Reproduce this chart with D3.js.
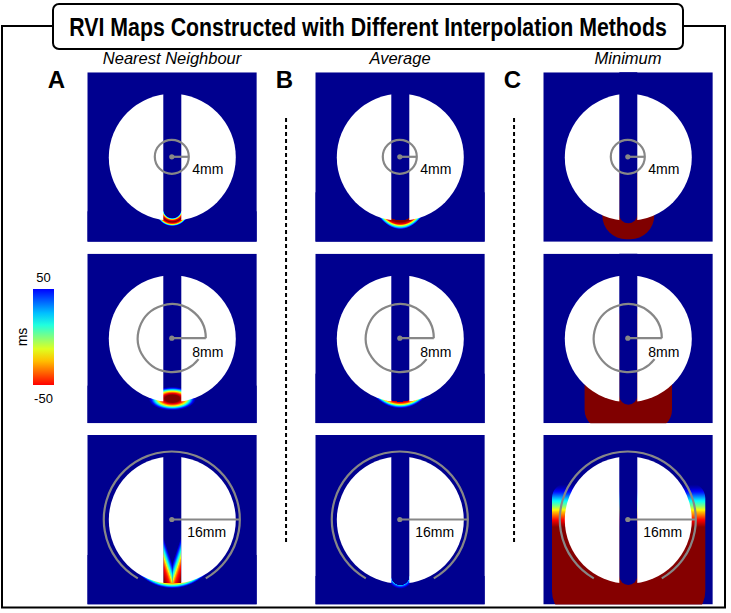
<!DOCTYPE html>
<html><head><meta charset="utf-8">
<script src="https://cdn.jsdelivr.net/npm/d3@7"></script>
<style>html,body{margin:0;padding:0;background:#fff;} svg{display:block;}</style>
</head><body>
<svg id="chart" width="731" height="613"></svg>
<script>
// ---------------- data ----------------
const title = "RVI Maps Constructed with Different Interpolation Methods";
const methods = ["Nearest Neighbour", "Average", "Minimum"];
const panelLetters = ["A", "B", "C"];
const radiiMM = [4, 8, 16];
const radiusLabels = ["4mm", "8mm", "16mm"];
const colorbarTicks = [50, -50];
const colorbarUnit = "ms";
// RVI (ms) profiles across each activation front: [normalised position, ms]
const nnFronts = [
  [[0,70],[0.5,70],[0.53,40],[0.59,-20],[0.65,-50],[0.74,-68],[0.82,-50],[0.88,-25],[0.94,25],[1,70]],
  [[0,-70],[0.3,-68],[0.45,-50],[0.6,-20],[0.75,20],[0.88,50],[1,70]],
  [[0,70],[0.92,70],[0.925,-30],[0.94,-10],[0.955,10],[0.975,35],[1,70]]
];
const nnWallFront = [[0,70],[0.154,45],[0.308,20],[0.423,0],[0.538,-25],[0.692,-45],[0.846,-55],[1,-64]];
const avgFronts = [
  [[0,70],[0.875,70],[0.876,-70],[0.9,-66],[0.93,-50],[0.944,-20],[0.958,0],[0.972,20],[0.99,45],[1,70]],
  [[0,70],[0.9,70],[0.9,-60],[0.925,-40],[0.945,-10],[0.962,20],[0.98,45],[1,70]],
  [[0,70],[0.68,70],[0.72,25],[0.85,48],[1,70]]
];
const minFronts = [
  [[0,-70],[1,-70]],
  [[0,-70],[1,-70]],
  [[0,70],[0.114,60],[0.227,45],[0.386,20],[0.523,0],[0.659,-25],[0.841,-50],[1,-66]]
];
const frontsByMethod = [nnFronts, avgFronts, minFronts];

// ---------------- layout ----------------
const W = 731, H = 613, P = 169.5;
const disk = {cx: 85, cy: 85, r: 63.5};
const strip = {x0: 76, x1: 94};
const ann = {cx: 84.5, cy: 84.5};
const waveLayout = [
  [ {kind:"radial", cx:85, cy:137, rx:17, ry:17, yMin:139},
    {kind:"radial", cx:85, cy:145, rx:24, ry:12, yMin:132},
    {kind:"radial", cx:85, cy:85, rx:55.3, ry:68.5, yMin:120, wall:true} ],
  [ {kind:"radial", cx:85, cy:85, rx:38, ry:72, yMin:120},
    {kind:"radial", cx:85, cy:85, rx:46.4, ry:70, yMin:120},
    {kind:"radial", cx:85, cy:141, rx:13, ry:13, yMin:141} ],
  [ {kind:"region", x:59, y:100, w:52, h:67, rt:0, rb:24, g0:100, g1:167, end:151},
    {kind:"region", x:41.3, y:60, w:87.4, h:116, rt:0, rb:20, g0:60, g1:176, end:151},
    {kind:"region", x:8.7, y:48, w:153.3, h:138, rt:15, rb:30, g0:48, g1:92, end:150} ]
];
const wallLayout = {ox: 85, oy: 140, dx: 3, dy: 1, s0: -4, s1: 9, y0: 95, y1: 148};
const gapAngles = [null, [0, 38], [60, 120]];   // degrees, clockwise from +x
const labelOffsets = [[20.5, 17], [20.5, 18.5], [15.5, 17]];
const FONT = "'Liberation Sans', Arial, sans-serif";

// ---------------- scales ----------------
const jet = d3.scaleLinear()
  .domain([66.7, 50, 16.7, -16.7, -50, -66.7])
  .range(["#00008f", "#0000ff", "#00ffff", "#ffff00", "#ff0000", "#800000"])
  .interpolate(d3.interpolateRgb).clamp(true);
const xCol = d3.scalePoint().domain(methods).range([87.3, 543.3]);
const yRow = d3.scalePoint().domain(radiiMM).range([72.3, 435]);
const mm = d3.scaleLinear().domain([0, 16]).range([0, 68]);
const cbScale = d3.scaleLinear().domain([50, -50]).range([289, 385]);

const svg = d3.select("#chart");
const defs = svg.append("defs");

function stopsFor(profile) {
  const s = [];
  for (let i = 0; i < profile.length - 1; i++) {
    const [t0, v0] = profile[i], [t1, v1] = profile[i + 1];
    const n = 8;
    for (let k = 0; k < n; k++) {
      const f = k / n;
      s.push({o: t0 + (t1 - t0) * f, c: jet(v0 + (v1 - v0) * f)});
    }
  }
  const last = profile[profile.length - 1];
  s.push({o: last[0], c: jet(last[1])});
  return s;
}
function addStops(grad, profile) {
  grad.selectAll("stop").data(stopsFor(profile)).join("stop")
    .attr("offset", d => d.o).attr("stop-color", d => d.c);
}
function roundedPath(x, y, w, h, rt, rb) {
  const p = d3.path();
  p.moveTo(x + rt, y);
  p.lineTo(x + w - rt, y);
  if (rt) p.arcTo(x + w, y, x + w, y + rt, rt);
  p.lineTo(x + w, y + h - rb);
  p.arcTo(x + w, y + h, x + w - rb, y + h, rb);
  p.lineTo(x + rb, y + h);
  p.arcTo(x, y + h, x, y + h - rb, rb);
  p.lineTo(x, y + rt);
  if (rt) p.arcTo(x, y, x + rt, y, rt);
  p.closePath();
  return p.toString();
}

defs.append("clipPath").attr("id", "panelClip")
  .append("rect").attr("width", P).attr("height", P);
const hc = defs.append("clipPath").attr("id", "halvesClip");
hc.append("rect").attr("x", -10).attr("y", -10).attr("width", strip.x0 + 10).attr("height", P + 20);
hc.append("rect").attr("x", strip.x1).attr("y", -10).attr("width", P - strip.x1 + 10).attr("height", P + 20);

// ---------------- frame & title ----------------
const tb = {x0: 53, x1: 683, y0: 4, y1: 49};
const frameY = 26;
svg.append("path")
  .attr("d", `M${tb.x0},${frameY}H2V607.5H725V${frameY}H${tb.x1}`)
  .attr("fill", "none").attr("stroke", "#000").attr("stroke-width", 2);
svg.append("rect").attr("x", tb.x0).attr("y", tb.y0)
  .attr("width", tb.x1 - tb.x0).attr("height", tb.y1 - tb.y0).attr("rx", 6)
  .attr("fill", "#fff").attr("stroke", "#000").attr("stroke-width", 2);
svg.append("text")
  .attr("transform", `translate(${(tb.x0 + tb.x1) / 2},35.5) scale(0.82,1)`)
  .attr("text-anchor", "middle").attr("font-family", FONT).attr("font-weight", "bold")
  .attr("font-size", 26).text(title);

// column headers, letters
svg.selectAll("text.method").data(methods).join("text").attr("class", "method")
  .attr("x", d => xCol(d) + P / 2).attr("y", 64)
  .attr("text-anchor", "middle").attr("font-family", FONT).attr("font-style", "italic")
  .attr("font-size", 16.5).text(d => d);
svg.selectAll("text.letter").data(panelLetters).join("text").attr("class", "letter")
  .attr("x", (d, i) => xCol(methods[i]) - 31).attr("y", 88)
  .attr("text-anchor", "middle").attr("font-family", FONT).attr("font-weight", "bold")
  .attr("font-size", 24).text(d => d);

// dashed separators
const sepX = [0, 1].map(i => (xCol(methods[i]) + P + xCol(methods[i + 1])) / 2);
svg.selectAll("line.sep").data(sepX).join("line").attr("class", "sep")
  .attr("x1", d => d).attr("x2", d => d).attr("y1", 118).attr("y2", 545)
  .attr("stroke", "#000").attr("stroke-width", 2).attr("stroke-dasharray", "4,3");

// ---------------- colour bar ----------------
const cbG = defs.append("linearGradient").attr("id", "cbGrad")
  .attr("x1", 0).attr("y1", 0).attr("x2", 0).attr("y2", 1);
addStops(cbG, [[0, 50], [1, -50]]);
svg.append("rect").attr("x", 33).attr("y", cbScale(50)).attr("width", 21)
  .attr("height", cbScale(-50) - cbScale(50)).attr("fill", "url(#cbGrad)");
svg.selectAll("text.cbtick").data(colorbarTicks).join("text").attr("class", "cbtick")
  .attr("x", 43.5).attr("y", d => cbScale(d) + (d > 0 ? -7 : 18))
  .attr("text-anchor", "middle").attr("font-family", FONT).attr("font-size", 13)
  .text(d => d);
svg.append("text").attr("transform", `translate(27,${(cbScale(50) + cbScale(-50)) / 2}) rotate(-90)`)
  .attr("text-anchor", "middle").attr("font-family", FONT).attr("font-size", 14)
  .text(colorbarUnit);

// ---------------- panels ----------------
const cells = d3.cross(d3.range(methods.length), d3.range(radiiMM.length));
cells.forEach(([ci, ri]) => {
  const g = svg.append("g")
    .attr("transform", `translate(${xCol(methods[ci])},${yRow(radiiMM[ri])})`);
  const inner = g.append("g").attr("clip-path", "url(#panelClip)");
  inner.append("rect").attr("width", P).attr("height", P).attr("fill", jet(70));
  const L = waveLayout[ci][ri];
  const front = frontsByMethod[ci][ri];
  const id = `wave${ci}${ri}`;
  if (L.kind === "radial") {
    const gr = defs.append("radialGradient").attr("id", id)
      .attr("gradientUnits", "userSpaceOnUse").attr("cx", 0).attr("cy", 0).attr("r", 1)
      .attr("gradientTransform", `translate(${L.cx},${L.cy}) scale(${L.rx},${L.ry})`);
    addStops(gr, front);
    inner.append("rect").attr("y", L.yMin).attr("width", P).attr("height", P - L.yMin)
      .attr("fill", `url(#${id})`);
    if (L.wall) {
      // wavefront running down both walls of the isthmus
      const Wl = wallLayout, k = Math.hypot(Wl.dx, Wl.dy);
      [-1, 1].forEach(side => {
        const ux = Wl.dx * side / k, uy = Wl.dy / k;
        const wid = `${id}w${side}`;
        const lg = defs.append("linearGradient").attr("id", wid)
          .attr("gradientUnits", "userSpaceOnUse")
          .attr("x1", Wl.ox + Wl.s0 * ux).attr("y1", Wl.oy + Wl.s0 * uy)
          .attr("x2", Wl.ox + Wl.s1 * ux).attr("y2", Wl.oy + Wl.s1 * uy);
        addStops(lg, nnWallFront);
        inner.append("rect")
          .attr("x", side < 0 ? strip.x0 : Wl.ox).attr("y", Wl.y0)
          .attr("width", (strip.x1 - strip.x0) / 2).attr("height", Wl.y1 - Wl.y0)
          .attr("fill", `url(#${wid})`);
      });
    }
  } else {
    const lg = defs.append("linearGradient").attr("id", id)
      .attr("gradientUnits", "userSpaceOnUse")
      .attr("x1", 0).attr("y1", L.g0).attr("x2", 0).attr("y2", L.g1);
    addStops(lg, front);
    inner.append("path").attr("d", roundedPath(L.x, L.y, L.w, L.h, L.rt, L.rb))
      .attr("fill", `url(#${id})`);
    inner.append("rect").attr("x", strip.x0).attr("y", -20)
      .attr("width", strip.x1 - strip.x0).attr("height", L.end + 20)
      .attr("rx", (strip.x1 - strip.x0) / 2).attr("fill", jet(70));
  }
  // white tissue halves
  g.append("circle").attr("cx", disk.cx).attr("cy", disk.cy).attr("r", disk.r)
    .attr("fill", "#fff").attr("clip-path", "url(#halvesClip)");
  // radius annotation
  const r = mm(radiiMM[ri]);
  const gap = gapAngles[ri];
  const p = d3.path();
  if (gap) {
    const a0 = gap[1] * Math.PI / 180, a1 = (gap[0] + 360) * Math.PI / 180;
    p.moveTo(ann.cx + r * Math.cos(a0), ann.cy + r * Math.sin(a0));
    p.arc(ann.cx, ann.cy, r, a0, a1);
  } else {
    p.moveTo(ann.cx + r, ann.cy);
    p.arc(ann.cx, ann.cy, r, 0, 2 * Math.PI);
  }
  g.append("path").attr("d", p.toString()).attr("fill", "none")
    .attr("stroke", "#878787").attr("stroke-width", 2.2);
  g.append("line").attr("x1", ann.cx).attr("y1", ann.cy).attr("x2", ann.cx + r).attr("y2", ann.cy)
    .attr("stroke", "#878787").attr("stroke-width", 2.2);
  g.append("circle").attr("cx", ann.cx).attr("cy", ann.cy).attr("r", 2.6).attr("fill", "#878787");
  g.append("text").attr("x", ann.cx + labelOffsets[ri][0]).attr("y", ann.cy + labelOffsets[ri][1])
    .attr("font-family", FONT).attr("font-size", 14).attr("fill", "#000")
    .text(radiusLabels[ri]);
});
</script>
</body></html>
